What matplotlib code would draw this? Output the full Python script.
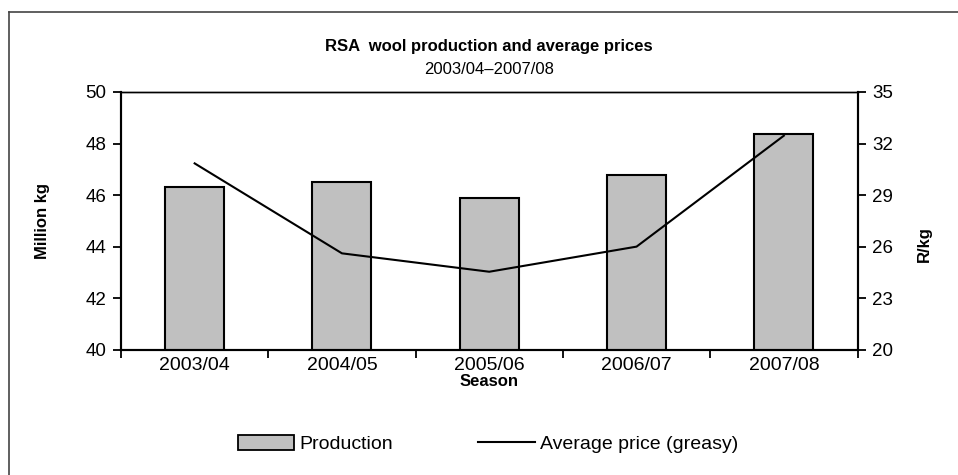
import matplotlib
matplotlib.use("Agg")
import matplotlib.pyplot as plt
from matplotlib.lines import Line2D
from matplotlib.patches import Patch

seasons = ["2003/04", "2004/05", "2005/06", "2006/07", "2007/08"]
production = [46.33, 46.51, 45.88, 46.78, 48.37]   # million kg
avg_price = [30.85, 25.62, 24.55, 26.01, 32.46]    # R/kg (greasy)

plt.rcParams['font.family'] = ['Liberation Sans', 'DejaVu Sans']

W, H = 958, 475
fig = plt.figure(figsize=(W / 100, H / 100), dpi=100)
ax = fig.add_axes([121 / W, 1 - 350 / H, (857.5 - 121) / W, (350 - 92) / H])

x = list(range(len(seasons)))
ax.bar(x, production, width=0.4, color='#c0c0c0', edgecolor='black',
       linewidth=1.5, zorder=2)
ax.set_xlim(-0.5, len(seasons) - 0.5)
ax.set_ylim(40, 50)
ax.set_yticks(range(40, 51, 2))
ax.set_xticks(x)
ax.set_xticklabels(seasons, fontsize=14)
ax.set_xticks([i - 0.5 for i in range(len(seasons) + 1)], minor=True)
ax.tick_params(axis='x', which='major', length=0, pad=5)
ax.tick_params(axis='x', which='minor', length=5.5, width=1.3, direction='out')
ax.tick_params(axis='y', length=5.5, width=1.3, labelsize=13.5, pad=5)
ax.set_xlabel('Season', fontsize=12, fontweight='bold', labelpad=0)
ax.set_ylabel('Million kg', fontsize=12, fontweight='bold')
ax.yaxis.set_label_coords(-0.096, 0.5)

ax2 = ax.twinx()
ax2.plot(x, avg_price, color='black', linewidth=1.5, zorder=3)
ax2.set_ylim(20, 35)
ax2.set_yticks(range(20, 36, 3))
ax2.tick_params(axis='y', length=5.5, width=1.3, labelsize=13.5, pad=5)
ax2.set_ylabel('R/kg', fontsize=12, fontweight='bold')
ax2.yaxis.set_label_coords(1.080, 0.41)

for a in (ax, ax2):
    for side in ('left', 'right', 'bottom'):
        a.spines[side].set_linewidth(1.5)
    a.spines['top'].set_linewidth(1.0)

fig.text(489 / W, 1 - 46 / H, 'RSA  wool production and average prices',
         ha='center', va='center', fontsize=12, fontweight='bold')
fig.text(489 / W, 1 - 70 / H, '2003/04\u20132007/08',
         ha='center', va='center', fontsize=12)

handles = [Patch(facecolor='#c0c0c0', edgecolor='black', linewidth=1.3),
           Line2D([], [], color='black', linewidth=1.5)]
fig.legend(handles, ['Production', 'Average price (greasy)'],
           loc='center', bbox_to_anchor=(488 / W, 1 - 444 / H), ncol=2,
           frameon=False, fontsize=14, handlelength=2.9, handleheight=0.8,
           handletextpad=0.25, columnspacing=4.4)

# outer frame
fig.add_artist(Line2D([9 / W, 9 / W], [0, 1 - 12 / H], transform=fig.transFigure,
                      color='#444444', linewidth=1.2))
fig.add_artist(Line2D([9 / W, 1], [1 - 12 / H, 1 - 12 / H], transform=fig.transFigure,
                      color='#444444', linewidth=1.2))

fig.savefig('out.png', dpi=100)
